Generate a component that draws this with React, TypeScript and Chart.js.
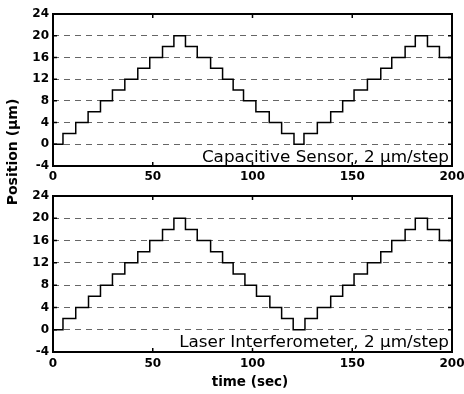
import React, { useEffect, useRef } from "react";
import { Chart, registerables } from "chart.js";

Chart.register(...registerables);

// Step transition times (sec) and position after each transition (µm)
const TIME_CAP = [0, 5.0, 11.4, 17.6, 23.8, 29.8, 36.0, 42.5, 48.5, 54.9, 60.6, 66.4, 72.3, 79.0, 85.0, 90.3, 95.5, 101.7, 108.4, 114.6, 120.8, 125.8, 132.5, 139.2, 145.2, 150.9, 157.6, 164.3, 169.8, 176.5, 181.6, 187.7, 193.7, 200];
const POS_CAP = [0, 2, 4, 6, 8, 10, 12, 14, 16, 18, 20, 18, 16, 14, 12, 10, 8, 6, 4, 2, 0, 2, 4, 6, 8, 10, 12, 14, 16, 18, 20, 18, 16, 16];

const TIME_LASER = [0, 5.0, 11.4, 17.8, 23.8, 29.8, 36.0, 42.5, 48.5, 54.9, 60.6, 66.4, 72.3, 79.0, 85.0, 90.3, 96.2, 102.0, 108.7, 114.6, 120.4, 126.3, 132.5, 139.2, 145.2, 150.9, 157.6, 164.3, 169.8, 176.5, 181.6, 187.7, 193.7, 200];
const POS_LASER = [0, 2, 4, 6, 8, 10, 12, 14, 16, 18, 20, 18, 16, 14, 12, 10, 8, 6, 4, 2, 0, 2, 4, 6, 8, 10, 12, 14, 16, 18, 20, 18, 16, 16];

const X_TICKS = [0, 50, 100, 150, 200];
const Y_TICKS = [-4, 0, 4, 8, 12, 16, 20, 24];

const LABEL_CAP = "Capacitive Sensor, 2 \u00b5m/step";
const LABEL_LASER = "Laser Interferometer, 2 \u00b5m/step";
const Y_TITLE = "Position (\u00b5m)";
const X_TITLE = "time (sec)";

const TICK_FONT = { family: "'DejaVu Sans', sans-serif", size: 12, weight: "bold" as const };

function makeFramePlugin(label: string, labelDrop: number) {
  return {
    id: "frame",
    afterDatasetsDraw(chart: any) {
      const { ctx, chartArea: a, scales } = chart;
      ctx.save();
      ctx.strokeStyle = "#000";
      ctx.lineWidth = 2;
      ctx.strokeRect(a.left, a.top, a.right - a.left, a.bottom - a.top);
      ctx.lineWidth = 1.5;
      ctx.beginPath();
      for (const v of X_TICKS) {
        const x = scales.x.getPixelForValue(v);
        ctx.moveTo(x, a.bottom);
        ctx.lineTo(x, a.bottom - 4);
        ctx.moveTo(x, a.top);
        ctx.lineTo(x, a.top + 4);
      }
      for (const v of Y_TICKS) {
        const y = scales.y.getPixelForValue(v);
        ctx.moveTo(a.left, y);
        ctx.lineTo(a.left + 4, y);
        ctx.moveTo(a.right, y);
        ctx.lineTo(a.right - 4, y);
      }
      ctx.stroke();
      ctx.fillStyle = "#000";
      ctx.font = "15px 'DejaVu Sans', sans-serif";
      ctx.textAlign = "right";
      ctx.textBaseline = "alphabetic";
      ctx.translate(a.right - 3, a.bottom - labelDrop);
      ctx.scale(1.12, 1);
      ctx.fillText(label, 0, 0);
      ctx.restore();
    },
  };
}

function makeConfig(times: number[], pos: number[], label: string, padTop: number, xAxisH: number, tickPad: number, labelDrop: number): any {
  return {
    type: "line",
    data: {
      datasets: [
        {
          data: times.map((t, i) => ({ x: t, y: pos[i] })),
          borderColor: "#000",
          borderWidth: 1.5,
          pointRadius: 0,
          stepped: "before",
          fill: false,
        },
      ],
    },
    options: {
      animation: false,
      responsive: false,
      maintainAspectRatio: false,
      layout: { padding: { top: padTop, right: 12, left: 0, bottom: 0 } },
      plugins: { legend: { display: false }, tooltip: { enabled: false } },
      scales: {
        x: {
          type: "linear",
          min: 0,
          max: 200,
          afterBuildTicks: (s: any) => { s.ticks = X_TICKS.map((v) => ({ value: v })); },
          ticks: { font: TICK_FONT, color: "#000", padding: tickPad, maxRotation: 0, autoSkip: false },
          grid: { display: false, drawTicks: false },
          border: { display: false },
          afterFit: (s: any) => { s.height = xAxisH; s.paddingLeft = 0; s.paddingRight = 0; },
        },
        y: {
          type: "linear",
          min: -4,
          max: 24,
          afterBuildTicks: (s: any) => { s.ticks = Y_TICKS.map((v) => ({ value: v })); },
          ticks: { font: TICK_FONT, color: "#000", padding: 4, autoSkip: false },
          grid: {
            drawTicks: false,
            lineWidth: 1,
            color: (c: any) => (c.tick && (c.tick.value === -4 || c.tick.value === 24) ? "rgba(0,0,0,0)" : "#666"),
          },
          border: { display: false, dash: [6, 5] },
          afterFit: (s: any) => { s.width = 53; s.paddingTop = 0; s.paddingBottom = 0; },
        },
      },
    },
    plugins: [makeFramePlugin(label, labelDrop)],
  };
}

export default function App() {
  const topRef = useRef<HTMLCanvasElement | null>(null);
  const botRef = useRef<HTMLCanvasElement | null>(null);

  useEffect(() => {
    const c1 = new Chart(topRef.current as HTMLCanvasElement, makeConfig(TIME_CAP, POS_CAP, LABEL_CAP, 14, 24, 4, 4));
    const c2 = new Chart(botRef.current as HTMLCanvasElement, makeConfig(TIME_LASER, POS_LASER, LABEL_LASER, 6, 42, 5, 5));
    return () => {
      c1.destroy();
      c2.destroy();
    };
  }, []);

  return (
    <div style={{ position: "absolute", left: 0, top: 0, width: 464, height: 394, background: "#fff", overflow: "hidden" }}>
      <canvas ref={topRef} width={464} height={190} style={{ position: "absolute", left: 0, top: 0, width: 464, height: 190 }} />
      <canvas ref={botRef} width={464} height={204} style={{ position: "absolute", left: 0, top: 190, width: 464, height: 204 }} />
      <div
        style={{
          position: "absolute",
          left: 12,
          top: 152,
          width: 140,
          height: 16,
          lineHeight: "16px",
          transform: "translate(-50%, -50%) rotate(-90deg)",
          textAlign: "center",
          whiteSpace: "nowrap",
          font: "bold 14px 'DejaVu Sans', sans-serif",
          color: "#000",
        }}
      >
        {Y_TITLE}
      </div>
      <div
        style={{
          position: "absolute",
          left: 250,
          top: 381,
          width: 120,
          height: 16,
          lineHeight: "16px",
          transform: "translate(-50%, -50%)",
          textAlign: "center",
          whiteSpace: "nowrap",
          font: "bold 13.5px 'DejaVu Sans', sans-serif",
          color: "#000",
        }}
      >
        {X_TITLE}
      </div>
    </div>
  );
}
